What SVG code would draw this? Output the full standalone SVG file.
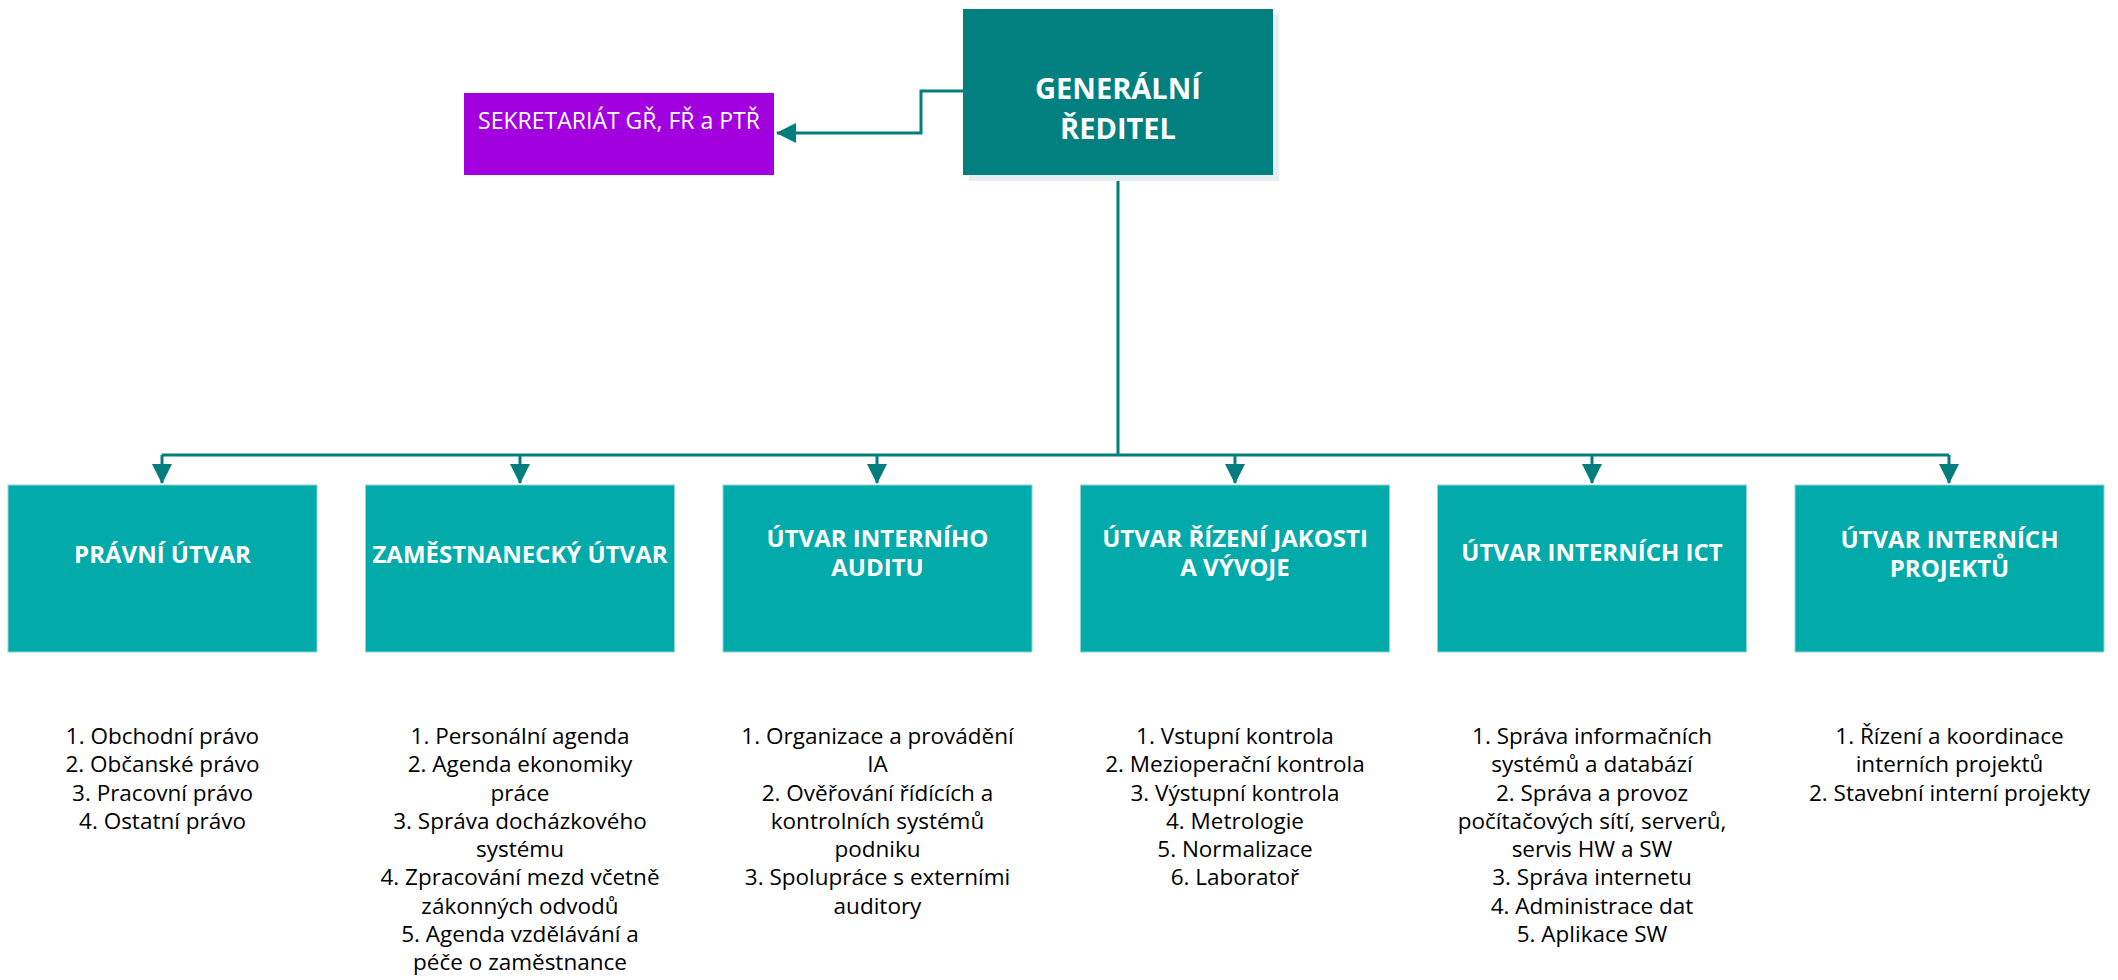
<svg xmlns="http://www.w3.org/2000/svg" width="2118" height="980" viewBox="0 0 2118 980">
<defs>
<style>
.child{fill:#02AAAA;stroke:#8FD3D3;stroke-width:1}
.title{font-family:"Open Sans","Noto Sans",sans-serif;font-weight:bold;font-size:24px;fill:#FFFFFF;text-anchor:middle}
.list{font-family:"Open Sans","Noto Sans",sans-serif;font-size:22.5px;fill:#000000;text-anchor:middle}
.conn{fill:none;stroke:#037D7D;stroke-width:3}
</style>
<marker id="arr" viewBox="0 0 20 20" refX="19" refY="10" markerWidth="20" markerHeight="20" markerUnits="userSpaceOnUse" orient="auto">
<path d="M0,0 L20,10 L0,20 Z" fill="#037D7D"/>
</marker>
</defs>
<rect width="2118" height="980" fill="#FFFFFF"/>
<g id="connectors">
<path class="conn" d="M963,91 H921 V133 H777" marker-end="url(#arr)"/>
<path class="conn" d="M1118,175 V455"/>
<path class="conn" d="M162,455 H1949"/>
<path class="conn" d="M162,455 V483" marker-end="url(#arr)"/>
<path class="conn" d="M520,455 V483" marker-end="url(#arr)"/>
<path class="conn" d="M877,455 V483" marker-end="url(#arr)"/>
<path class="conn" d="M1235,455 V483" marker-end="url(#arr)"/>
<path class="conn" d="M1592,455 V483" marker-end="url(#arr)"/>
<path class="conn" d="M1949,455 V483" marker-end="url(#arr)"/>
</g>
<g id="gr">
<rect x="969" y="15" width="310" height="166" fill="#E3EFEF"/>
<rect x="963" y="9" width="310" height="166" fill="#028080"/>
<text x="1118" y="99" font-family="'Open Sans','Noto Sans',sans-serif" font-weight="bold" font-size="29" fill="#FFFFFF" text-anchor="middle">GENERÁLNÍ<tspan x="1118" dy="40">ŘEDITEL</tspan></text>
</g>
<g id="sekretariat">
<rect x="464" y="93" width="310" height="82" fill="#A200DF"/>
<text x="619" y="129" font-family="'Open Sans','Noto Sans',sans-serif" font-size="23" fill="#FFFFFF" text-anchor="middle">SEKRETARIÁT GŘ, FŘ a PTŘ</text>
</g>
<g id="pravni">
<rect class="child" x="8" y="485" width="309" height="167"/>
<text class="title" x="162.5" y="563">PRÁVNÍ ÚTVAR</text>
<text class="list" x="162.5" y="744">1. Obchodní právo<tspan x="162.5" dy="28.25">2. Občanské právo</tspan><tspan x="162.5" dy="28.25">3. Pracovní právo</tspan><tspan x="162.5" dy="28.25">4. Ostatní právo</tspan></text>
</g>
<g id="zamestnanecky">
<rect class="child" x="365.5" y="485" width="309" height="167"/>
<text class="title" x="520" y="563">ZAMĚSTNANECKÝ ÚTVAR</text>
<text class="list" x="520" y="744">1. Personální agenda<tspan x="520" dy="28.25">2. Agenda ekonomiky</tspan><tspan x="520" dy="28.25">práce</tspan><tspan x="520" dy="28.25">3. Správa docházkového</tspan><tspan x="520" dy="28.25">systému</tspan><tspan x="520" dy="28.25">4. Zpracování mezd včetně</tspan><tspan x="520" dy="28.25">zákonných odvodů</tspan><tspan x="520" dy="28.25">5. Agenda vzdělávání a</tspan><tspan x="520" dy="28.25">péče o zaměstnance</tspan></text>
</g>
<g id="audit">
<rect class="child" x="723" y="485" width="309" height="167"/>
<text class="title" x="877.5" y="547">ÚTVAR INTERNÍHO<tspan x="877.5" dy="29">AUDITU</tspan></text>
<text class="list" x="877.5" y="744">1. Organizace a provádění<tspan x="877.5" dy="28.25">IA</tspan><tspan x="877.5" dy="28.25">2. Ověřování řídících a</tspan><tspan x="877.5" dy="28.25">kontrolních systémů</tspan><tspan x="877.5" dy="28.25">podniku</tspan><tspan x="877.5" dy="28.25">3. Spolupráce s externími</tspan><tspan x="877.5" dy="28.25">auditory</tspan></text>
</g>
<g id="jakost">
<rect class="child" x="1080.5" y="485" width="309" height="167"/>
<text class="title" x="1235" y="547">ÚTVAR ŘÍZENÍ JAKOSTI<tspan x="1235" dy="29">A VÝVOJE</tspan></text>
<text class="list" x="1235" y="744">1. Vstupní kontrola<tspan x="1235" dy="28.25">2. Mezioperační kontrola</tspan><tspan x="1235" dy="28.25">3. Výstupní kontrola</tspan><tspan x="1235" dy="28.25">4. Metrologie</tspan><tspan x="1235" dy="28.25">5. Normalizace</tspan><tspan x="1235" dy="28.25">6. Laboratoř</tspan></text>
</g>
<g id="ict">
<rect class="child" x="1437.5" y="485" width="309" height="167"/>
<text class="title" x="1592" y="561">ÚTVAR INTERNÍCH ICT</text>
<text class="list" x="1592" y="744">1. Správa informačních<tspan x="1592" dy="28.25">systémů a databází</tspan><tspan x="1592" dy="28.25">2. Správa a provoz</tspan><tspan x="1592" dy="28.25">počítačových sítí, serverů,</tspan><tspan x="1592" dy="28.25">servis HW a SW</tspan><tspan x="1592" dy="28.25">3. Správa internetu</tspan><tspan x="1592" dy="28.25">4. Administrace dat</tspan><tspan x="1592" dy="28.25">5. Aplikace SW</tspan></text>
</g>
<g id="projekty">
<rect class="child" x="1795" y="485" width="309" height="167"/>
<text class="title" x="1949.5" y="548">ÚTVAR INTERNÍCH<tspan x="1949.5" dy="29">PROJEKTŮ</tspan></text>
<text class="list" x="1949.5" y="744">1. Řízení a koordinace<tspan x="1949.5" dy="28.25">interních projektů</tspan><tspan x="1949.5" dy="28.25">2. Stavební interní projekty</tspan></text>
</g>
</svg>
